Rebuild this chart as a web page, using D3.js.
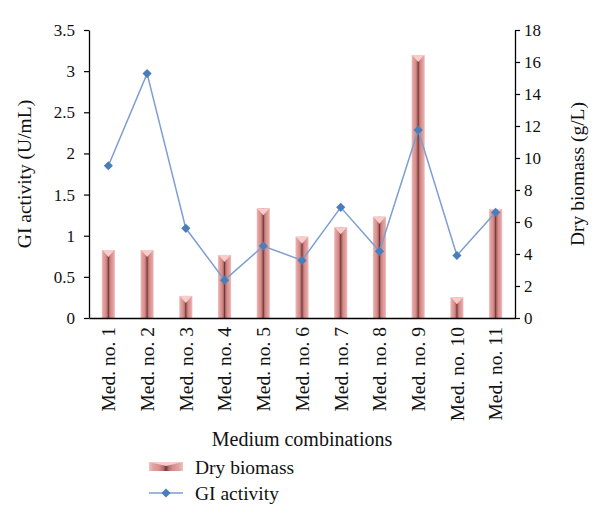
<!DOCTYPE html>
<html><head><meta charset="utf-8">
<script src="https://cdn.jsdelivr.net/npm/d3@7"></script>
<style>
html,body{margin:0;padding:0;background:#fff;}
svg{display:block;}
text{font-family:"Liberation Serif","Times New Roman",serif;fill:#111;}
</style></head>
<body>
<svg id="chart" width="600" height="529"></svg>
<script>
const categories = ["Med. no. 1","Med. no. 2","Med. no. 3","Med. no. 4","Med. no. 5","Med. no. 6","Med. no. 7","Med. no. 8","Med. no. 9","Med. no. 10","Med. no. 11"];
const dryBiomass = [4.25, 4.25, 1.38, 3.94, 6.86, 5.08, 5.67, 6.33, 16.44, 1.29, 6.81];
const giActivity = [1.85, 2.97, 1.09, 0.46, 0.875, 0.70, 1.345, 0.81, 2.285, 0.76, 1.285];
const leftTicks = [0, 0.5, 1, 1.5, 2, 2.5, 3, 3.5];
const rightTicks = [0, 2, 4, 6, 8, 10, 12, 14, 16, 18];

const svg = d3.select("#chart");
const L = 89, R = 515, T = 30, B = 318;

const x = d3.scaleBand().domain(categories).range([L, R]).paddingInner(0.66).paddingOuter(0.33);
const yL = d3.scaleLinear().domain([0, 3.5]).range([B, T]);
const yR = d3.scaleLinear().domain([0, 18]).range([B, T]);

const defs = svg.append("defs");
const grad = defs.append("linearGradient").attr("id","barGrad").attr("x1","0").attr("x2","1").attr("y1","0").attr("y2","0");
[[0,"#f0c2c1"],[0.12,"#e2a2a0"],[0.3,"#d68f8d"],[0.42,"#b56e6c"],[0.5,"#703535"],[0.58,"#b56e6c"],[0.7,"#d68f8d"],[0.88,"#e2a2a0"],[1,"#f0c2c1"]]
  .forEach(([o,c]) => grad.append("stop").attr("offset",o).attr("stop-color",c));

// bars
const bars = svg.append("g");
categories.forEach((c, i) => {
  const x0 = x(c), w = x.bandwidth(), top = yR(dryBiomass[i]);
  bars.append("rect").attr("x", x0).attr("y", top).attr("width", w).attr("height", B - top)
    .attr("fill", "url(#barGrad)");
  bars.append("path")
    .attr("d", `M${x0+0.5},${top}L${x0+w-0.5},${top}L${x0+w/2},${top+7}Z`)
    .attr("fill", "#f7cccb");
});

// axes
const axL = d3.axisLeft(yL).tickValues(leftTicks).tickSize(5).tickSizeOuter(0).tickFormat(d => String(d));
const gL = svg.append("g").attr("transform", `translate(${L},0)`).call(axL);
const axR = d3.axisRight(yR).tickValues(rightTicks).tickSize(5).tickSizeOuter(0).tickFormat(d => String(d));
const gR = svg.append("g").attr("transform", `translate(${R},0)`).call(axR);
[gL, gR].forEach(g => {
  g.selectAll("path.domain").attr("stroke","#000").attr("stroke-width",1.3);
  g.selectAll(".tick line").attr("stroke","#000").attr("stroke-width",1.2);
  g.selectAll(".tick text").style("font-family","'Liberation Serif',serif").style("font-size","17px").attr("fill","#111");
});
gL.selectAll(".tick text").attr("x", -14);
gR.selectAll(".tick text").attr("x", 9);

const axB = d3.axisBottom(x).tickSize(0).tickSizeOuter(0);
const gB = svg.append("g").attr("transform", `translate(0,${B})`).call(axB);
gB.selectAll("path.domain").attr("stroke","#000").attr("stroke-width",1.3);
gB.selectAll(".tick text")
  .style("font-family","'Liberation Serif',serif").style("font-size","19.5px").attr("fill","#111")
  .attr("transform","rotate(-90)").attr("text-anchor","end").attr("x",-9).attr("y",0).attr("dy","0.35em");

// line
const line = d3.line().x((d,i) => x(categories[i]) + x.bandwidth()/2).y(d => yL(d));
svg.append("path").datum(giActivity).attr("d", line).attr("fill","none").attr("stroke","#7d9ed0").attr("stroke-width",1.5);
const sq = d3.symbol().type(d3.symbolSquare).size(42);
svg.append("g").selectAll("path").data(giActivity).join("path")
  .attr("d", sq)
  .attr("transform", (d,i) => `translate(${x(categories[i]) + x.bandwidth()/2},${yL(d)}) rotate(45)`)
  .attr("fill","#4a7ebb");

// titles
svg.append("text").attr("transform", `translate(24,${(T+B)/2}) rotate(-90)`).attr("text-anchor","middle")
  .attr("dy","0.35em").style("font-size","19.5px").text("GI activity (U/mL)");
svg.append("text").attr("transform", `translate(577,${(T+B)/2}) rotate(-90)`).attr("text-anchor","middle")
  .attr("dy","0.35em").style("font-size","19.5px").text("Dry biomass (g/L)");
svg.append("text").attr("x", 302).attr("y", 446).attr("text-anchor","middle")
  .style("font-size","20px").text("Medium combinations");

// legend
const lg = svg.append("g");
lg.append("rect").attr("x",149).attr("y",462).attr("width",34).attr("height",9).attr("fill","url(#barGrad)");
lg.append("path").attr("d","M149,462L183,462L166,466Z").attr("fill","#f7cccb");
lg.append("text").attr("x",195).attr("y",467).attr("dy","0.35em").style("font-size","19.5px").text("Dry biomass");
lg.append("line").attr("x1",149).attr("x2",183).attr("y1",493).attr("y2",493).attr("stroke","#7d9ed0").attr("stroke-width",1.5);
lg.append("path").attr("d", sq).attr("transform","translate(166,493) rotate(45)").attr("fill","#4a7ebb");
lg.append("text").attr("x",195).attr("y",493).attr("dy","0.35em").style("font-size","19.5px").text("GI activity");
</script>
</body></html>
